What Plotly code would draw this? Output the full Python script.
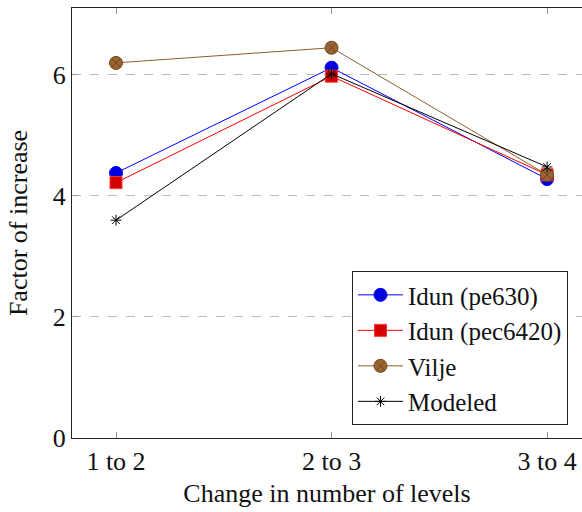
import plotly.graph_objects as go

categories = ["1 to 2", "2 to 3", "3 to 4"]
idun_pe630 = [4.38, 6.12, 4.28]
idun_pec6420 = [4.22, 5.98, 4.35]
vilje = [6.20, 6.45, 4.35]
modeled = [3.60, 6.02, 4.48]
y_ticks = [0, 2, 4, 6]

xi = list(range(len(categories)))
FONT = "Liberation Serif"

fig = go.Figure()
fig.add_trace(go.Scatter(x=xi, y=idun_pe630, name="Idun (pe630)", mode="lines+markers",
                         line=dict(color="#0000ff", width=1),
                         marker=dict(symbol="circle", size=13, color="#0000dd", line=dict(color="#0000ff", width=1))))
fig.add_trace(go.Scatter(x=xi, y=idun_pec6420, name="Idun (pec6420)", mode="lines+markers",
                         line=dict(color="#ff0000", width=1),
                         marker=dict(symbol="square", size=12, color="#d40000", line=dict(color="#ff3333", width=1))))
fig.add_trace(go.Scatter(x=xi, y=vilje, name="Vilje", mode="lines+markers",
                         line=dict(color="#8c5e2f", width=1),
                         marker=dict(symbol="circle-x", size=13, color="#9a6530", line=dict(color="#6e4520", width=1))))
fig.add_trace(go.Scatter(x=xi, y=modeled, name="Modeled", mode="lines+markers",
                         line=dict(color="#000000", width=1),
                         marker=dict(symbol="asterisk-open", size=9, color="#000000", line=dict(color="#000000", width=1))))

fig.update_layout(
    width=582, height=512,
    margin=dict(l=72, r=0, t=8, b=74),
    paper_bgcolor="white", plot_bgcolor="white",
    font=dict(family=FONT, size=26, color="#111111"),
    showlegend=True,
    legend=dict(x=0.9725, y=0.03, xanchor="right", yanchor="bottom",
                bordercolor="#222222", borderwidth=1, bgcolor="white",
                font=dict(family=FONT, size=25, color="#111111"), itemwidth=45, tracegroupgap=0),
    xaxis=dict(range=[-0.2042, 2.162], tickmode="array", tickvals=xi, ticktext=categories,
               showgrid=False, zeroline=False, showline=True, linecolor="#222222", linewidth=1.2,
               mirror="ticks", ticks="inside", ticklen=6, tickcolor="#999999", tickwidth=1,
               tickfont=dict(family=FONT, size=26),
               title=dict(text="Change in number of levels", font=dict(family=FONT, size=26), standoff=8)),
    yaxis=dict(range=[0, 7.107], tickmode="array", tickvals=y_ticks,
               showgrid=True, gridcolor="#bbbbbb", griddash="dash", gridwidth=1,
               zeroline=False, showline=True, linecolor="#222222", linewidth=1.2,
               ticks="inside", ticklen=6, tickcolor="#999999", tickwidth=1,
               tickfont=dict(family=FONT, size=26),
               title=dict(text="Factor of increase", font=dict(family=FONT, size=26), standoff=17)),
)

fig.write_html("out.html")
